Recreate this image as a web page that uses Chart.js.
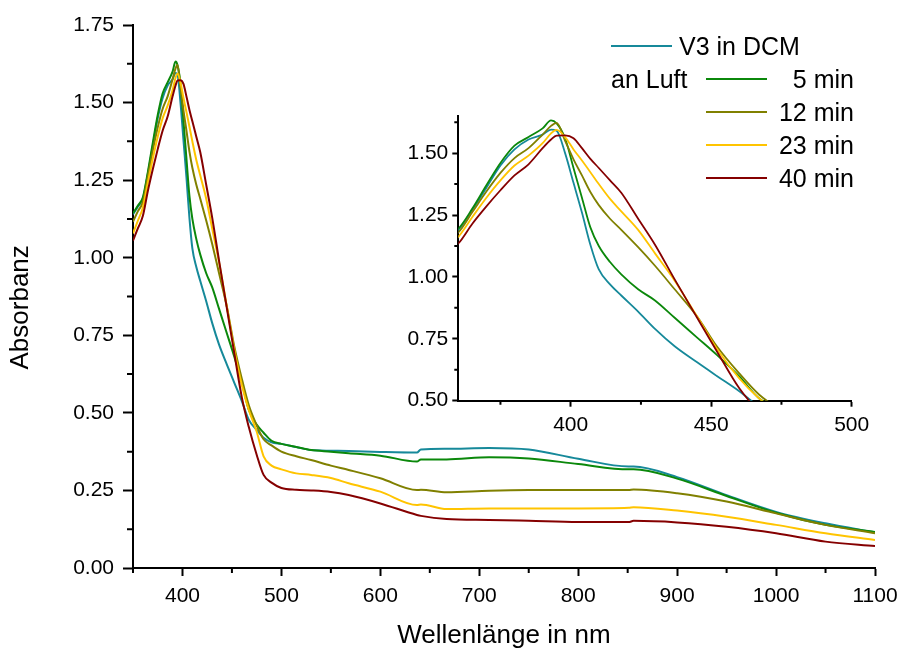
<!DOCTYPE html>
<html>
<head>
<meta charset="utf-8">
<title>Absorbanz</title>
<script src="https://cdn.jsdelivr.net/npm/chart.js@4.4.1/dist/chart.umd.min.js"></script>
<style>
  body { margin: 0; background: #fff; }
  #wrap { position: relative; width: 901px; height: 651px; }
  #main { position: absolute; left: 0; top: 0; width: 901px; height: 651px; }
  #inset { position: absolute; left: 390px; top: 100px; width: 480px; height: 340px; }
</style>
</head>
<body>
<div id="wrap">
  <div id="main"><canvas id="mainChart"></canvas></div>
  <div id="inset"><canvas id="insetChart"></canvas></div>
</div>
<script>
// wavelengths in nm (shared by all spectra)
var wavelengths = [350, 355, 360, 365, 370, 375, 380, 385, 390, 393, 395, 398, 401, 404, 407, 410, 414, 418, 424, 430,
  437, 445, 452, 460, 467, 475, 482, 490, 500, 515, 530, 550, 568, 600, 637, 641, 667, 710, 750, 800,
  851, 856, 900, 950, 1000, 1050, 1100];

var v3Dcm = [1.140, 1.165, 1.190, 1.270, 1.360, 1.450, 1.515, 1.555, 1.575, 1.595, 1.590, 1.500, 1.380, 1.260, 1.130, 1.030, 0.970, 0.925, 0.860, 0.790,
  0.720, 0.655, 0.600, 0.538, 0.478, 0.445, 0.420, 0.405, 0.400, 0.390, 0.380, 0.378, 0.377, 0.374, 0.372, 0.382, 0.384, 0.387, 0.382, 0.352,
  0.327, 0.327, 0.293, 0.235, 0.181, 0.144, 0.115];
var luft5 = [1.143, 1.168, 1.195, 1.276, 1.370, 1.460, 1.530, 1.565, 1.600, 1.632, 1.620, 1.560, 1.440, 1.320, 1.200, 1.125, 1.060, 1.010, 0.950, 0.905,
  0.835, 0.755, 0.685, 0.598, 0.510, 0.462, 0.436, 0.410, 0.400, 0.390, 0.380, 0.375, 0.370, 0.362, 0.343, 0.350, 0.350, 0.357, 0.353, 0.335,
  0.318, 0.318, 0.288, 0.232, 0.178, 0.139, 0.116];
var luft12 = [1.116, 1.150, 1.180, 1.262, 1.345, 1.420, 1.480, 1.520, 1.575, 1.610, 1.622, 1.550, 1.475, 1.410, 1.343, 1.290, 1.235, 1.190, 1.120, 1.045,
  0.950, 0.840, 0.720, 0.610, 0.525, 0.460, 0.415, 0.395, 0.375, 0.360, 0.348, 0.330, 0.316, 0.289, 0.251, 0.252, 0.244, 0.249, 0.251, 0.251,
  0.251, 0.253, 0.241, 0.214, 0.176, 0.139, 0.112];
var luft23 = [1.078, 1.120, 1.162, 1.242, 1.320, 1.390, 1.450, 1.490, 1.540, 1.580, 1.594, 1.565, 1.515, 1.470, 1.423, 1.375, 1.315, 1.265, 1.190, 1.095,
  0.985, 0.840, 0.710, 0.590, 0.510, 0.440, 0.360, 0.330, 0.318, 0.305, 0.300, 0.290, 0.273, 0.246, 0.203, 0.205, 0.190, 0.192, 0.192, 0.192,
  0.194, 0.196, 0.185, 0.165, 0.139, 0.112, 0.090];
var luft40 = [1.055, 1.095, 1.135, 1.215, 1.285, 1.350, 1.410, 1.455, 1.520, 1.555, 1.571, 1.572, 1.560, 1.520, 1.477, 1.440, 1.390, 1.340, 1.235, 1.130,
  0.990, 0.835, 0.700, 0.550, 0.455, 0.365, 0.300, 0.275, 0.258, 0.252, 0.250, 0.245, 0.235, 0.208, 0.171, 0.168, 0.158, 0.155, 0.152, 0.148,
  0.148, 0.152, 0.147, 0.133, 0.112, 0.085, 0.071];

var seriesLabels = ['V3 in DCM', '5 min', '12 min', '23 min', '40 min'];
var seriesValues = [v3Dcm, luft5, luft12, luft23, luft40];
var seriesColors = ['#16899A', '#0B880B', '#808000', '#FFC400', '#850000'];

var FONT = '"Liberation Sans", Arial, sans-serif';
Chart.defaults.color = '#000';
Chart.defaults.font.family = FONT;

function makeDatasets(width) {
  return seriesValues.map(function(vals, i) {
    return {
      label: seriesLabels[i],
      data: wavelengths.map(function(w, j) { return {x: w, y: vals[j]}; }),
      borderColor: seriesColors[i],
      borderWidth: width,
      pointRadius: 0,
      fill: false,
      cubicInterpolationMode: 'monotone',
      order: seriesLabels.length - i
    };
  });
}

// short unlabelled ticks between the labelled ones
var minorTicks = {
  id: 'minorTicks',
  afterDraw: function(chart, args, opts) {
    var ctx = chart.ctx, area = chart.chartArea;
    var xs = chart.scales.x, ys = chart.scales.y;
    ctx.save();
    ctx.strokeStyle = '#000';
    ctx.lineWidth = 2;
    ctx.beginPath();
    for (var v = opts.xStart; v <= xs.max + 1e-9; v += opts.xStep) {
      var px = xs.getPixelForValue(v);
      ctx.moveTo(px, area.bottom);
      ctx.lineTo(px, area.bottom + opts.xLen);
    }
    for (var w = opts.yStart; w <= ys.max + 1e-9; w += opts.yStep) {
      var py = ys.getPixelForValue(w);
      ctx.moveTo(area.left, py);
      ctx.lineTo(area.left - opts.yLen, py);
    }
    ctx.stroke();
    ctx.restore();
  }
};

var legendBox = {
  id: 'legendBox',
  afterDraw: function(chart) {
    var ctx = chart.ctx;
    ctx.save();
    ctx.font = '25px ' + FONT;
    ctx.fillStyle = '#000';
    ctx.textBaseline = 'alphabetic';
    ctx.lineWidth = 2;
    for (var i = 0; i < seriesLabels.length; i++) {
      var y = 46 + i * 33;
      var x0 = i === 0 ? 611 : 706;
      ctx.strokeStyle = seriesColors[i];
      ctx.beginPath();
      ctx.moveTo(x0, y);
      ctx.lineTo(x0 + 61, y);
      ctx.stroke();
      if (i === 0) {
        ctx.textAlign = 'left';
        ctx.fillText(seriesLabels[i], 679, y + 9);
      } else {
        ctx.textAlign = 'right';
        ctx.fillText(seriesLabels[i], 854, y + 9);
      }
    }
    ctx.textAlign = 'left';
    ctx.fillText('an Luft', 611, 46 + 33 + 9);
    ctx.restore();
  }
};

function axisStyle(tickLen) {
  return {
    grid: { drawOnChartArea: false, drawTicks: true, tickLength: tickLen, tickWidth: 2, tickColor: '#000' },
    border: { display: true, color: '#000', width: 2 }
  };
}

// fixed axis box sizes; label overhang is covered by layout padding
function fixHeight(h) {
  return function(s) { s.height = h; s.paddingLeft = 0; s.paddingRight = 0; };
}
function fixWidth(w) {
  return function(s) { s.width = w; s.paddingTop = 0; s.paddingBottom = 0; };
}

var mainX = axisStyle(8);
mainX.type = 'linear';
mainX.min = 350;
mainX.max = 1100;
mainX.ticks = { stepSize: 100, includeBounds: false, autoSkip: false, maxRotation: 0, padding: 8,
  font: { size: 21 }, callback: function(v) { return String(v); } };
mainX.title = { display: true, text: 'Wellenlänge in nm', font: { size: 26 }, padding: { top: 0, bottom: 0 } };
mainX.afterFit = fixHeight(83);

var mainY = axisStyle(10);
mainY.min = 0;
mainY.max = 1.75;
mainY.ticks = { stepSize: 0.25, includeBounds: false, autoSkip: false, padding: 9,
  font: { size: 21 }, callback: function(v) { return v.toFixed(2); } };
mainY.title = { display: true, text: 'Absorbanz   ', font: { size: 26 }, padding: { top: 5, bottom: 0 } };
mainY.afterFit = fixWidth(133);

new Chart(document.getElementById('mainChart'), {
  type: 'line',
  data: { datasets: makeDatasets(2) },
  options: {
    responsive: true,
    maintainAspectRatio: false,
    animation: false,
    layout: { padding: { left: 0, right: 26, top: 25, bottom: 0 } },
    plugins: {
      legend: { display: false },
      tooltip: { enabled: false },
      minorTicks: { xStart: 350, xStep: 100, xLen: 5, yStart: 0.125, yStep: 0.25, yLen: 6 }
    },
    scales: { x: mainX, y: mainY }
  },
  plugins: [minorTicks, legendBox]
});

// inset: zoom on the Soret band
var insetX = axisStyle(6);
insetX.type = 'linear';
insetX.min = 360;
insetX.max = 500;
insetX.ticks = { stepSize: 50, includeBounds: false, autoSkip: false, maxRotation: 0, padding: 6,
  font: { size: 21 }, callback: function(v) { return String(v); } };
insetX.afterFit = fixHeight(39.3);

var insetY = axisStyle(6);
insetY.min = 0.5;
insetY.max = 1.65;
insetY.ticks = { stepSize: 0.25, includeBounds: false, autoSkip: false, padding: 4,
  font: { size: 21 }, callback: function(v) { return v.toFixed(2); } };
insetY.afterFit = fixWidth(68.3);

new Chart(document.getElementById('insetChart'), {
  type: 'line',
  data: { datasets: makeDatasets(1.8) },
  options: {
    responsive: true,
    maintainAspectRatio: false,
    animation: false,
    layout: { padding: { left: 0, right: 18.3, top: 16, bottom: 0 } },
    plugins: {
      legend: { display: false },
      tooltip: { enabled: false },
      minorTicks: { xStart: 375, xStep: 50, xLen: 4, yStart: 0.625, yStep: 0.25, yLen: 4 }
    },
    scales: { x: insetX, y: insetY }
  },
  plugins: [minorTicks]
});
</script>
</body>
</html>
